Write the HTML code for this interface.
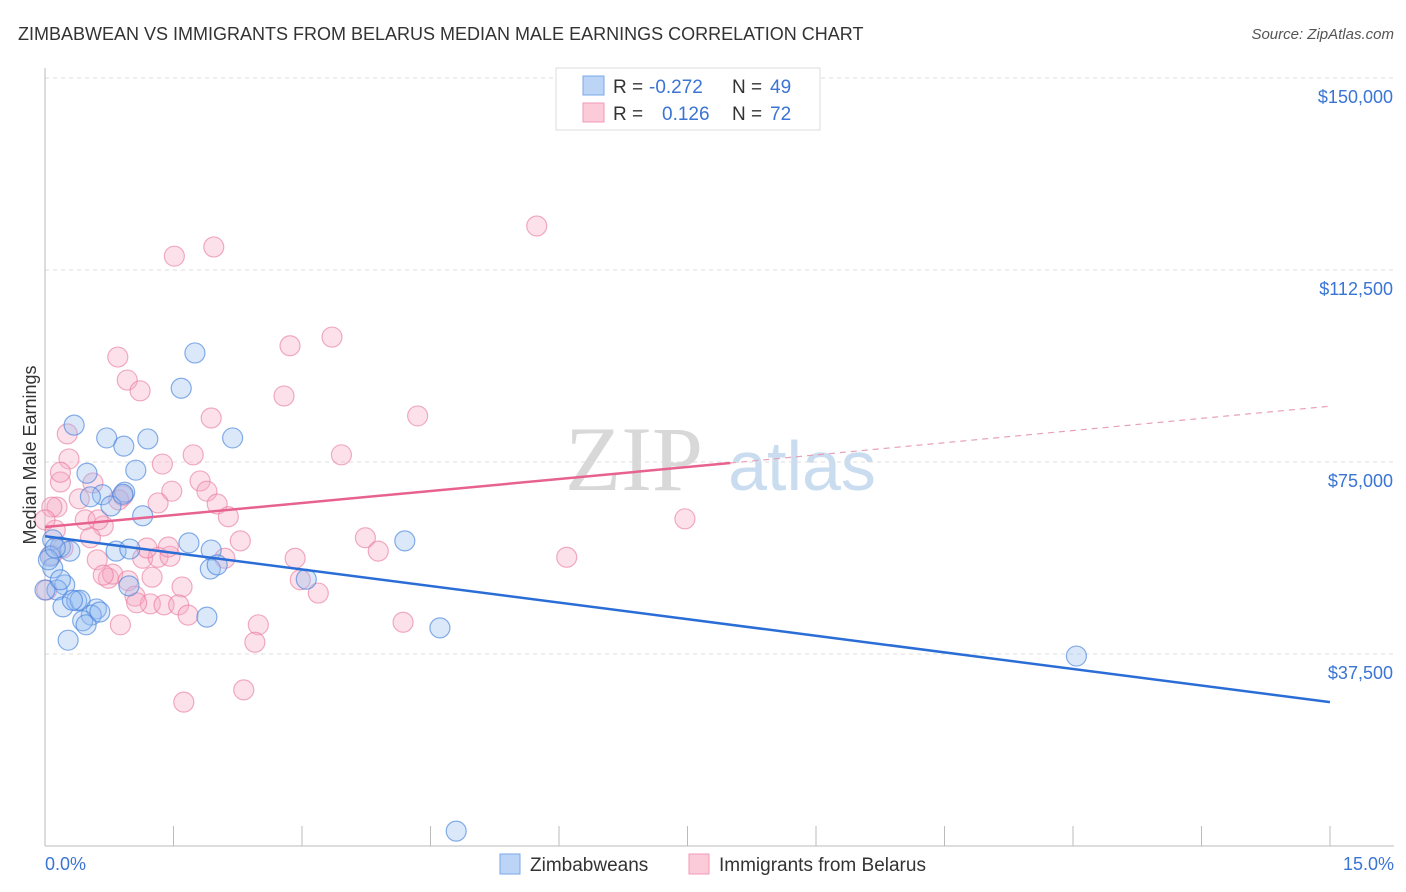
<!DOCTYPE html>
<html><head><meta charset="utf-8"><style>
body{margin:0;background:#fff;font-family:"Liberation Sans",sans-serif;}
svg{display:block}
</style></head><body>
<svg id="chart" width="1406" height="892" xmlns="http://www.w3.org/2000/svg">
<text x="18" y="40" font-size="18" fill="#333">ZIMBABWEAN VS IMMIGRANTS FROM BELARUS MEDIAN MALE EARNINGS CORRELATION CHART</text>
<text x="1394" y="39" font-size="15" fill="#555" font-style="italic" text-anchor="end">Source: ZipAtlas.com</text>
<g>
<text x="634" y="490" font-size="92" fill="#d8d8d8" font-family="Liberation Serif,serif" text-anchor="middle">ZIP</text>
<text x="802" y="490" font-size="70" fill="#c9dcf0" text-anchor="middle">atlas</text>
</g>
<g id="grid"></g>
<g id="axes"></g>
<g id="pts"></g>
<g id="lines"></g>
<text x="36" y="455" font-size="18" fill="#333" text-anchor="middle" transform="rotate(-90 36 455)">Median Male Earnings</text>
<text x="45" y="870" font-size="18" fill="#3a74d4">0.0%</text>
<text x="1394" y="870" font-size="18" fill="#3a74d4" text-anchor="end">15.0%</text>
<g>
<rect x="556" y="68" width="264" height="62" fill="#fff" stroke="#ddd"/>
<rect x="583" y="76" width="21" height="19" fill="#bcd5f7" stroke="#7aa7e8"/>
<rect x="583" y="103" width="21" height="19" fill="#fbcbd9" stroke="#f09ab5"/>
<text x="613" y="93" font-size="19" fill="#333">R = </text><text x="649" y="93" font-size="19" fill="#3a74d4">-0.272</text>
<text x="732" y="93" font-size="19" fill="#333">N = </text><text x="770" y="93" font-size="19" fill="#3a74d4">49</text>
<text x="613" y="120" font-size="19" fill="#333">R = </text><text x="662" y="120" font-size="19" fill="#3a74d4">0.126</text>
<text x="732" y="120" font-size="19" fill="#333">N = </text><text x="770" y="120" font-size="19" fill="#3a74d4">72</text>
</g>
<g>
<rect x="500" y="854" width="20" height="20" fill="#bcd5f7" stroke="#7aa7e8"/>
<text x="530" y="871" font-size="19" fill="#333">Zimbabweans</text>
<rect x="689" y="854" width="20" height="20" fill="#fbcbd9" stroke="#f09ab5"/>
<text x="719" y="871" font-size="19" fill="#333">Immigrants from Belarus</text>
</g>
</svg>
<script>
const yTicks=[37500,75000,112500,150000];
const yTickLabels=["$37,500","$75,000","$112,500","$150,000"];
const blueX=[0.34,0.72,0.92,1.20,2.19,1.75,1.59,0.49,1.06,0.67,0.93,0.77,1.14,0.09,0.18,0.29,0.06,0.09,0.23,0.14,0.21,0.27,0.37,0.41,0.60,0.54,0.44,0.48,0.83,0.99,1.68,1.94,1.93,2.01,1.89,3.05,4.20,4.61,12.04,4.80,0.04,0.12,0.53,0.91,0,0.32,0.64,0.98,0.18];
const blueY=[82.2,79.7,78.1,79.5,79.7,96.3,89.4,72.8,73.4,68.6,69.1,66.4,64.5,59.8,58.4,57.6,56.6,54.3,51.0,50.0,46.7,40.2,47.9,48.0,46.3,45.1,44.0,43.2,57.6,58.0,59.2,57.8,54.1,54.9,44.7,52.1,59.6,42.6,37.1,2.9,55.9,58.2,68.2,68.7,50.0,48.0,45.7,50.8,52.0];
const pinkX=[5.74,1.51,1.97,3.35,2.86,0.85,0.96,1.11,2.79,1.94,4.35,0.26,3.46,0.28,1.37,1.73,1.81,1.89,0.18,0.14,0.40,0.56,1.48,1.32,2.01,2.14,7.47,0.12,0.47,0.68,0.62,0.91,0.86,0.08,0.21,0.53,0.61,0.74,0.79,0.97,1.05,1.25,1.14,1.32,1.46,1.44,1.19,2.28,2.10,2.92,3.74,3.89,6.09,2.98,1.60,3.19,1.23,1.39,1.56,1.67,0.88,2.49,2.45,4.18,2.32,1.62,0.02,0.08,0,0.18,1.07,0.68];
const pinkY=[121.1,115.2,117.0,99.4,97.7,95.5,91.0,88.9,87.9,83.6,84.0,80.5,76.4,75.6,74.6,76.4,71.3,69.3,71.1,66.2,67.8,70.9,69.3,67.0,66.8,64.3,63.9,61.7,63.7,62.5,63.7,68.4,67.6,56.8,58.2,60.2,55.9,52.3,53.1,51.8,48.8,52.5,56.2,56.4,56.6,58.4,58.2,59.6,56.2,56.2,60.2,57.6,56.4,52.0,50.6,49.4,47.3,47.1,47.1,45.1,43.2,43.2,39.8,43.7,30.5,28.1,50.0,66.2,63.7,73.0,47.5,52.9];
const blueTrend=[[0,60.5],[15,28.1]];
const pinkTrendSolid=[[0,62.3],[8,74.8]];
const pinkTrendDash=[[8,74.8],[15,85.9]];
const NS="http://www.w3.org/2000/svg";
const X=v=>45+v/15*1285;
const Y=v=>846-v/37.5*192;
function mk(t,a,p){const e=document.createElementNS(NS,t);for(const k in a)e.setAttribute(k,a[k]);p.appendChild(e);return e;}
const grid=document.getElementById('grid'),axes=document.getElementById('axes');
yTicks.forEach((t,i)=>{
  const y=Y(t/1000);
  const l=mk('line',{x1:45,x2:1394,y1:y,y2:y,stroke:'#ddd','stroke-dasharray':'4,4'},grid);
  
  
  const tx=mk('text',{x:1393,y:y+25,'font-size':18,fill:'#3a74d4','text-anchor':'end'},axes);
  tx.textContent=yTickLabels[i];
  
  
});
const ya=mk('line',{x1:45,x2:45,y1:68,y2:846,stroke:'#bbb'},axes);


const xa=mk('line',{x1:45,x2:1394,y1:846,y2:846,stroke:'#bbb'},axes);


for(let i=0;i<=10;i++){
  const t=mk('line',{x1:X(i*1.5),x2:X(i*1.5),y1:826,y2:846,stroke:'#bbb'},axes);
  
  
}
const pts=document.getElementById('pts');
pinkX.forEach((v,i)=>{
  const c=mk('circle',{cx:X(v),cy:Y(pinkY[i]),r:10,fill:'rgba(247,170,195,0.35)',stroke:'rgba(232,120,155,0.6)','stroke-width':1.2},pts);
  
  
});
blueX.forEach((v,i)=>{
  const c=mk('circle',{cx:X(v),cy:Y(blueY[i]),r:10,fill:'rgba(150,190,240,0.35)',stroke:'rgba(70,130,220,0.65)','stroke-width':1.2},pts);
  
  
});
const lines=document.getElementById('lines');
const bl=mk('line',{x1:X(blueTrend[0][0]),y1:Y(blueTrend[0][1]),x2:X(blueTrend[1][0]),y2:Y(blueTrend[1][1]),stroke:'#2a6dd6','stroke-width':2.5},lines);


const pl=mk('line',{x1:X(pinkTrendSolid[0][0]),y1:Y(pinkTrendSolid[0][1]),x2:X(pinkTrendSolid[1][0]),y2:Y(pinkTrendSolid[1][1]),stroke:'#e8628f','stroke-width':2.5},lines);


const pd=mk('line',{x1:X(pinkTrendDash[0][0]),y1:Y(pinkTrendDash[0][1]),x2:X(pinkTrendDash[1][0]),y2:Y(pinkTrendDash[1][1]),stroke:'#e8a0b8','stroke-width':1.2,'stroke-dasharray':'6,5'},lines);


</script>
</body></html>
